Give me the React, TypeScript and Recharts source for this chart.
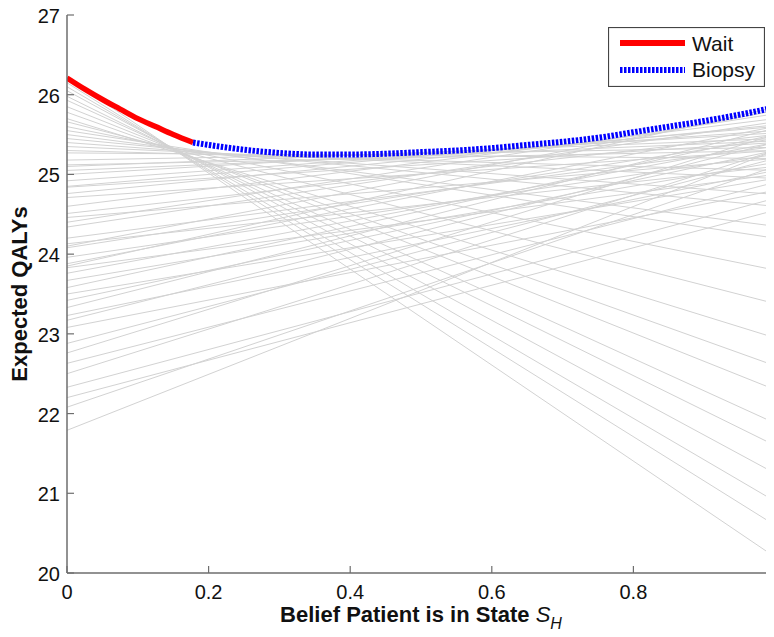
import { LineChart, Line, XAxis, YAxis, Legend, Label } from 'recharts';

const xTicks = [0, 0.2, 0.4, 0.6, 0.8, 1];
const yTicks = [20, 21, 22, 23, 24, 25, 26, 27];

// upper envelope, "Wait" part
const waitX = [0, 0.025, 0.05, 0.075, 0.1, 0.125, 0.15, 0.178];
const waitY = [26.21, 26.07, 25.94, 25.82, 25.7, 25.6, 25.5, 25.4];

// upper envelope, "Biopsy" part
const biopsyX = [0.178, 0.2, 0.25, 0.3, 0.35, 0.4, 0.45, 0.5, 0.55, 0.6, 0.65, 0.7, 0.75, 0.8, 0.85, 0.9, 0.95, 1];
const biopsyY = [25.4, 25.37, 25.31, 25.27, 25.25, 25.25, 25.26, 25.28, 25.3, 25.33, 25.37, 25.41, 25.46, 25.53, 25.6, 25.67, 25.75, 25.84];

// gray alpha vectors: value at belief 0 and at belief 1
const alphaAt0 = [
  26.22, 26.15, 26.1, 26.05, 25.98, 25.93, 25.85, 25.78, 25.7, 25.66,
  25.6, 25.55, 25.5, 25.45, 25.4, 25.35, 25.3, 25.27,
  25.18, 25.1, 25.0, 24.85, 24.6, 24.4, 24.1, 23.85,
  25.12, 25.05, 24.92, 24.84, 24.76, 24.71, 24.51, 24.46, 24.34, 24.2,
  24.13, 24.08, 23.96, 23.88, 23.83, 23.76, 23.67, 23.58, 23.5, 23.42,
  23.33, 23.23, 23.17, 23.08, 22.88, 22.76, 22.63, 22.5, 22.33, 22.2,
  22.08, 21.79,
];
const alphaAt1 = [
  20.2, 20.6, 20.9, 21.25, 21.6, 21.88, 22.3, 22.6, 22.95, 23.38,
  23.8, 24.2, 24.35, 24.6, 24.75, 24.95, 25.05, 25.2,
  25.34, 25.45, 25.52, 25.6, 25.7, 25.76, 25.8, 25.84,
  25.3, 25.42, 25.55, 25.4, 25.62, 25.3, 25.5, 25.2, 25.66, 25.35,
  25.1, 25.45, 25.25, 25.6, 25.0, 25.4, 25.15, 25.5, 24.95, 25.3,
  25.58, 25.05, 25.4, 24.8, 25.2, 25.5, 24.9, 25.3, 24.7, 24.55,
  25.1, 25.3,
];

const legendNames = ['Wait', 'Biopsy'];

const waitData = waitX.map((x, i) => ({ x, y: waitY[i] }));
const biopsyData = biopsyX.map((x, i) => ({ x, y: biopsyY[i] }));
const alphaLines = alphaAt0.map((y0, i) => [
  { x: 0, y: y0 },
  { x: 1, y: alphaAt1[i] },
]);

const FONT = '"Liberation Sans", Arial, Helvetica, sans-serif';
const AXIS = '#6e6e6e';
const RED = '#ff0000';
const BLUE = '#0000ff';
const DASH = '2.5 1.5';

function BottomTick(props: any) {
  const { x, y, payload } = props;
  return (
    <g>
      <line x1={x} y1={y} x2={x} y2={y - 7} stroke={AXIS} strokeWidth={1.2} />
      <text x={x} y={y + 26} textAnchor="middle" fontSize={20} fontFamily={FONT} fill="#111">
        {payload.value}
      </text>
    </g>
  );
}

function LeftTick(props: any) {
  const { x, y, payload } = props;
  return (
    <g>
      <line x1={x} y1={y} x2={x + 7} y2={y} stroke={AXIS} strokeWidth={1.2} />
      <text x={x - 7} y={y + 8} textAnchor="end" fontSize={20} fontFamily={FONT} fill="#111">
        {payload.value}
      </text>
    </g>
  );
}

function TopTick(props: any) {
  const { x, y } = props;
  return <line x1={x} y1={y} x2={x} y2={y + 7} stroke={AXIS} strokeWidth={1.2} />;
}

function RightTick(props: any) {
  const { x, y } = props;
  return <line x1={x} y1={y} x2={x - 7} y2={y} stroke={AXIS} strokeWidth={1.2} />;
}

function XTitle(props: any) {
  const vb = props.viewBox;
  return (
    <text
      x={vb.x + vb.width / 2}
      y={vb.y + 49}
      textAnchor="middle"
      fontSize={22}
      fontFamily={FONT}
      fill="#111"
    >
      <tspan fontWeight="bold">Belief Patient is in State </tspan>
      <tspan fontStyle="italic">S</tspan>
      <tspan fontStyle="italic" fontSize={16} dy={7}>H</tspan>
    </text>
  );
}

function YTitle(props: any) {
  const vb = props.viewBox;
  const cx = 19;
  const cy = vb.y + vb.height / 2;
  return (
    <text
      x={cx}
      y={cy}
      transform={`rotate(-90 ${cx} ${cy})`}
      textAnchor="middle"
      fontSize={22}
      fontWeight="bold"
      fontFamily={FONT}
      fill="#111"
    >
      Expected QALYs
    </text>
  );
}

function LegendBox() {
  const colors = [RED, BLUE];
  return (
    <svg width={157} height={60} style={{ display: 'block' }}>
      <rect x={0.5} y={0.5} width={156} height={59} fill="#fff" stroke="#444" strokeWidth={1.2} />
      {legendNames.map((name, i) => (
        <g key={name}>
          <line
            x1={12}
            x2={77}
            y1={16 + i * 27}
            y2={16 + i * 27}
            stroke={colors[i]}
            strokeWidth={6}
            strokeDasharray={i === 1 ? DASH : undefined}
          />
          <text x={84} y={24 + i * 26} fontSize={21} fontFamily={FONT} fill="#111">
            {name}
          </text>
        </g>
      ))}
    </svg>
  );
}

export default function App() {
  return (
    <div style={{ width: 766, height: 629, overflow: 'hidden' }}>
      <LineChart width={800} height={629} margin={{ top: 7, right: 33, bottom: 0, left: 0 }}>
        <XAxis
          type="number"
          dataKey="x"
          domain={[0, 1]}
          ticks={xTicks}
          allowDataOverflow
          height={64}
          tickSize={0}
          tickMargin={0}
          tickLine={false}
          axisLine={{ stroke: AXIS, strokeWidth: 1.5 }}
          tick={<BottomTick />}
          interval={0}
        >
          <Label content={<XTitle />} />
        </XAxis>
        <XAxis
          xAxisId="top"
          orientation="top"
          type="number"
          dataKey="x"
          domain={[0, 1]}
          ticks={xTicks}
          allowDataOverflow
          height={0}
          tickSize={0}
          tickMargin={0}
          tickLine={false}
          axisLine={{ stroke: AXIS, strokeWidth: 1.5 }}
          tick={<TopTick />}
          interval={0}
        />
        <YAxis
          type="number"
          domain={[20, 27]}
          ticks={yTicks}
          allowDataOverflow
          width={59}
          tickSize={0}
          tickMargin={0}
          tickLine={false}
          axisLine={{ stroke: AXIS, strokeWidth: 1.5 }}
          tick={<LeftTick />}
          interval={0}
        >
          <Label content={<YTitle />} />
        </YAxis>
        <YAxis
          yAxisId="right"
          orientation="right"
          type="number"
          domain={[20, 27]}
          ticks={yTicks}
          allowDataOverflow
          width={0}
          tickSize={0}
          tickMargin={0}
          tickLine={false}
          axisLine={{ stroke: AXIS, strokeWidth: 1.5 }}
          tick={<RightTick />}
          interval={0}
        />
        {alphaLines.map((d, i) => (
          <Line
            key={`alpha-${i}`}
            data={d}
            dataKey="y"
            stroke="#d2d2d2"
            strokeWidth={1}
            dot={false}
            activeDot={false}
            legendType="none"
            isAnimationActive={false}
          />
        ))}
        <Line
          data={waitData}
          dataKey="y"
          name={legendNames[0]}
          type="monotone"
          stroke={RED}
          strokeWidth={5.5}
          dot={false}
          activeDot={false}
          isAnimationActive={false}
        />
        <Line
          data={biopsyData}
          dataKey="y"
          name={legendNames[1]}
          type="monotone"
          stroke={BLUE}
          strokeWidth={6}
          strokeDasharray={DASH}
          dot={false}
          activeDot={false}
          isAnimationActive={false}
        />
        <Legend
          layout="horizontal"
          align="center"
          verticalAlign="middle"
          content={<LegendBox />}
          wrapperStyle={{ position: 'absolute', left: 600, top: 19, width: 157, height: 60 }}
        />
      </LineChart>
    </div>
  );
}
